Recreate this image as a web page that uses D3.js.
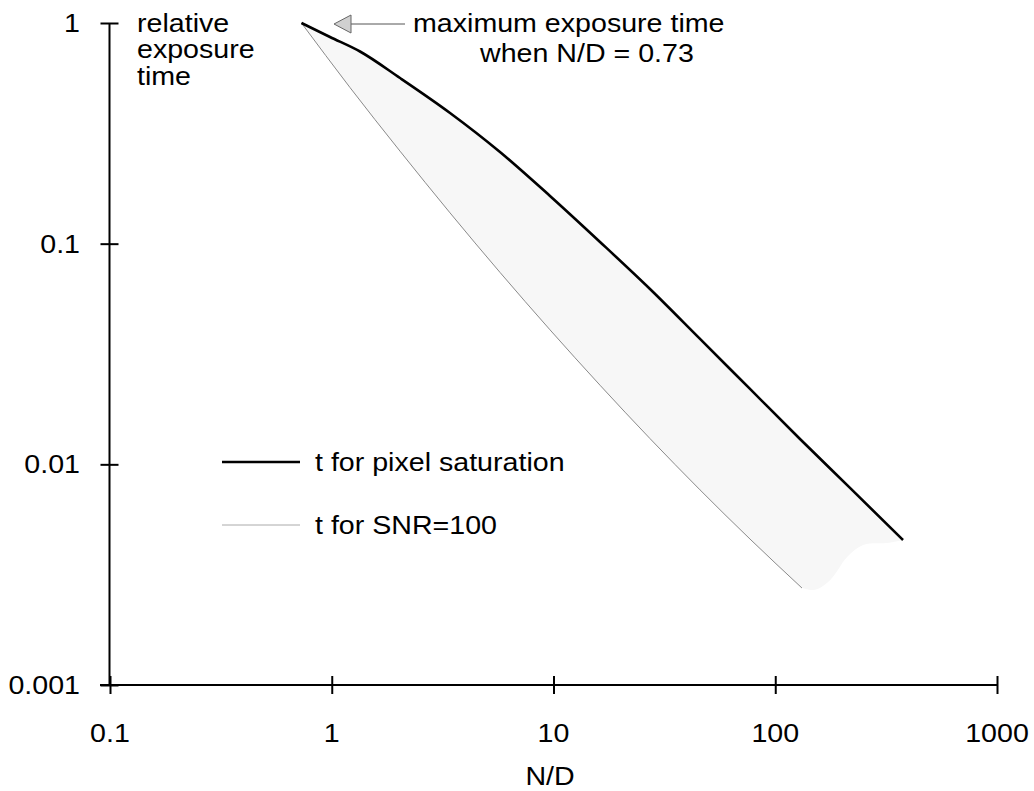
<!DOCTYPE html>
<html>
<head>
<meta charset="utf-8">
<script src="https://cdn.jsdelivr.net/npm/d3@7"></script>
<style>
  body { margin: 0; background: #fff; }
  svg text { font-family: "Liberation Sans", Arial, sans-serif; fill: #000; }
</style>
</head>
<body>
<svg id="chart" width="1034" height="791"></svg>
<script>
// ticks on both log axes
var xTicks = [0.1, 1, 10, 100, 1000];
var xTickLabels = ["0.1", "1", "10", "100", "1000"];
var yTicks = [0.001, 0.01, 0.1, 1];
var yTickLabels = ["0.001", "0.01", "0.1", "1"];

// t for pixel saturation (N/D, relative time)
var satND = [0.73, 0.982, 1.341, 2.032, 3.415, 5.737, 9.643, 16.21, 27.24, 45.79, 76.93, 129.3, 217.3, 376.9];
var satT  = [1, 0.864, 0.7427, 0.5632, 0.3912, 0.2603, 0.1645, 0.1018, 0.0623, 0.0370, 0.02196, 0.01303, 0.00782, 0.00454];

// t for SNR=100
var snrND = [0.73, 1.209, 2.032, 3.415, 5.737, 9.643, 16.21, 27.24, 45.79, 76.93, 132];
var snrT  = [1, 0.5098, 0.2625, 0.1379, 0.0741, 0.0407, 0.02283, 0.01308, 0.00766, 0.004586, 0.00275];

// lower edge of the shaded region, from the saturation end to the SNR end
var edgeND = [376.9, 319, 249, 211, 177, 151, 132];
var edgeT  = [0.00454, 0.0044, 0.00431, 0.0038, 0.00299, 0.0027, 0.00275];

var svg = d3.select("#chart");
var FS = 26, SX = 1.1;

var x = d3.scaleLog().domain([0.1, 1000]).range([110, 997]);
var y = d3.scaleLog().domain([0.001, 1]).range([685, 23]);

function pts(xs, ys) {
  return xs.map(function(v, i) { return [x(v), y(ys[i])]; });
}
function stretchedText(g, tx, ty, str, anchor) {
  return g.append("text")
    .attr("transform", "translate(" + tx + "," + ty + ") scale(" + SX + ",1)")
    .attr("text-anchor", anchor || "start")
    .style("font-size", FS + "px")
    .text(str);
}

var sat = pts(satND, satT);
var snr = pts(snrND, snrT);
var edge = pts(edgeND, edgeT);

var smooth = d3.line().curve(d3.curveMonotoneX);
var wavy = d3.line().curve(d3.curveCatmullRom.alpha(0.5));

// shaded band between the two curves
var bandPath = smooth(sat) + wavy(edge).replace(/^M/, "L") +
  smooth(snr.slice().reverse()).replace(/^M/, "L") + "Z";
svg.append("path")
  .attr("d", bandPath)
  .attr("fill", "#f7f7f7")
  .attr("stroke", "none");

svg.append("path")
  .attr("d", smooth(snr))
  .attr("fill", "none")
  .attr("stroke", "#8a8a8a")
  .attr("stroke-width", 1);

svg.append("path")
  .attr("d", smooth(sat))
  .attr("fill", "none")
  .attr("stroke", "#000")
  .attr("stroke-width", 2.6);

// axes
var xAxis = svg.append("g").attr("transform", "translate(0,685)")
  .call(d3.axisBottom(x).tickValues(xTicks)
    .tickFormat(function(d, i) { return xTickLabels[i]; })
    .tickSizeOuter(0).tickSize(9));
xAxis.select(".domain").remove();
xAxis.selectAll(".tick line").attr("y1", -9).attr("y2", 9)
  .attr("stroke", "#000").attr("stroke-width", 2);
xAxis.selectAll(".tick text").remove();
xAxis.append("line").attr("x1", 100).attr("x2", x(1000))
  .attr("stroke", "#000").attr("stroke-width", 2);
xTicks.forEach(function(v, i) {
  stretchedText(svg, x(v), 742, xTickLabels[i], "middle");
});

var yAxis = svg.append("g").attr("transform", "translate(109.5,0)")
  .call(d3.axisLeft(y).tickValues(yTicks)
    .tickFormat(function(d, i) { return yTickLabels[i]; })
    .tickSizeOuter(0).tickSize(9));
yAxis.select(".domain").remove();
yAxis.selectAll(".tick line").attr("x1", -9).attr("x2", 9)
  .attr("stroke", "#000").attr("stroke-width", 2);
yAxis.selectAll(".tick text").remove();
yAxis.append("line").attr("y1", y(1)).attr("y2", y(0.001))
  .attr("stroke", "#000").attr("stroke-width", 2);
yTicks.forEach(function(v, i) {
  stretchedText(svg, 80, y(v) + 9, yTickLabels[i], "end");
});

// axis titles
stretchedText(svg, 550, 785, "N/D", "middle");
stretchedText(svg, 137, 32, "relative");
stretchedText(svg, 137, 58, "exposure");
stretchedText(svg, 137, 85, "time");

// annotation with arrow
svg.append("line").attr("x1", 351).attr("x2", 405).attr("y1", 24).attr("y2", 24)
  .attr("stroke", "#555").attr("stroke-width", 1);
svg.append("polygon").attr("points", "334,24 351,15 351,33")
  .attr("fill", "#d0d0d0").attr("stroke", "#666").attr("stroke-width", 1);
stretchedText(svg, 413, 32, "maximum exposure time");
stretchedText(svg, 480, 62, "when N/D = 0.73");

// legend
svg.append("line").attr("x1", 222).attr("x2", 300).attr("y1", 462).attr("y2", 462)
  .attr("stroke", "#000").attr("stroke-width", 2.6);
stretchedText(svg, 315, 471, "t for pixel saturation");
svg.append("line").attr("x1", 222).attr("x2", 300).attr("y1", 525).attr("y2", 525)
  .attr("stroke", "#aaa").attr("stroke-width", 1);
stretchedText(svg, 315, 534, "t for SNR=100");
</script>
</body>
</html>
